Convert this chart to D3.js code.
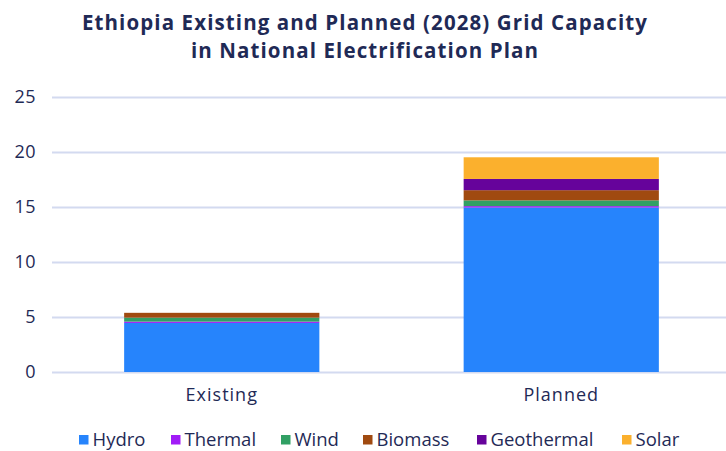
<!DOCTYPE html>
<html>
<head>
<meta charset="utf-8">
<script src="https://cdn.jsdelivr.net/npm/d3@7"></script>
<style>
  html, body { margin: 0; padding: 0; background: #ffffff; }
  svg { display: block; font-family: "Open Sans", sans-serif; }
</style>
</head>
<body>
<svg id="chart" width="726" height="451"></svg>
<script>
// Grid capacity (GW) by source
const categories = ["Existing", "Planned"];
const sources = ["Hydro", "Thermal", "Wind", "Biomass", "Geothermal", "Solar"];
const hydro      = [4.46, 14.95];
const thermal    = [0.12, 0.13];
const wind       = [0.36, 0.52];
const biomass    = [0.44, 0.93];
const geothermal = [0.0, 1.02];
const solar      = [0.0, 1.97];
const yTicks = [0, 5, 10, 15, 20, 25];
const titleLines = ["Ethiopia Existing and Planned (2028) Grid Capacity", "in National Electrification Plan"];

const colors = ["#2684fc", "#a11cf7", "#31a064", "#a04a10", "#66039b", "#fbb02d"];
const ink = "#1f2a56";
const font = "'Open Sans', sans-serif";

const seriesValues = [hydro, thermal, wind, biomass, geothermal, solar];
const rows = categories.map((c, i) => {
  const r = { category: c };
  sources.forEach((s, k) => { r[s] = seriesValues[k][i]; });
  return r;
});
const stacked = d3.stack().keys(sources)(rows);

const svg = d3.select("#chart");
const margin = { left: 52, right: -5, top: 97, bottom: 79 };
const W = 726, H = 451;

const x = d3.scaleBand()
  .domain(categories)
  .range([margin.left, W - margin.right])
  .paddingInner(0.425)
  .paddingOuter(0.2125);

const y = d3.scaleLinear().domain([0, 25]).range([H - margin.bottom, margin.top]);

// Title
svg.append("g").selectAll("text").data(titleLines).join("text")
  .attr("x", 365).attr("y", (d, i) => 30 + i * 28)
  .attr("text-anchor", "middle")
  .attr("font-size", 20.5).attr("font-weight", 700)
  .attr("letter-spacing", 1.1)
  .attr("fill", ink)
  .text(d => d);

// Gridlines and y labels
const yAxis = svg.append("g")
  .attr("transform", `translate(${margin.left},0)`)
  .call(d3.axisLeft(y).tickValues(yTicks).tickSize(-(W - margin.right - margin.left)).tickPadding(16));
yAxis.select(".domain").remove();
yAxis.selectAll(".tick line").attr("stroke", "#d3daf0").attr("stroke-width", 2);
yAxis.selectAll(".tick text").attr("fill", ink).attr("font-size", 18).attr("font-family", font)
  .attr("letter-spacing", 0.5);

// Bars
svg.append("g").selectAll("g").data(stacked).join("g")
  .attr("fill", (d, i) => colors[i])
  .selectAll("rect").data(d => d).join("rect")
  .attr("x", d => x(d.data.category))
  .attr("width", x.bandwidth())
  .attr("y", d => y(d[1]))
  .attr("height", d => Math.max(0, y(d[0]) - y(d[1])));

// x labels
const xAxis = svg.append("g")
  .attr("transform", `translate(0,${H - margin.bottom})`)
  .call(d3.axisBottom(x).tickSize(0).tickPadding(16));
xAxis.select(".domain").remove();
xAxis.selectAll(".tick text").attr("fill", ink).attr("font-size", 18).attr("font-family", font)
  .attr("letter-spacing", 1.0);

// Legend
const legendX = [79, 171, 281, 363, 477, 622];
const legend = svg.append("g").selectAll("g").data(sources).join("g")
  .attr("transform", (d, i) => `translate(${legendX[i]},435)`);
legend.append("rect").attr("x", 0).attr("y", 0).attr("width", 9.5).attr("height", 9.5)
  .attr("fill", (d, i) => colors[i]);
legend.append("text").attr("x", 13.5).attr("y", 10.5)
  .attr("font-size", 18.5).attr("fill", ink)
  .text(d => d);
</script>
</body>
</html>
